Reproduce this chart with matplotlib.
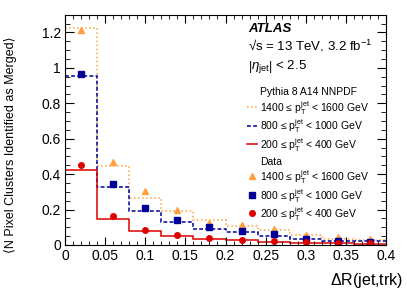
import numpy as np
import matplotlib
matplotlib.use("Agg")
import matplotlib.pyplot as plt
from matplotlib.lines import Line2D
from matplotlib.ticker import MultipleLocator, FormatStrFormatter

plt.rcParams['font.family'] = ['Liberation Sans', 'DejaVu Sans']
plt.rcParams['mathtext.fontset'] = 'custom'
plt.rcParams['mathtext.rm'] = 'Liberation Sans'
plt.rcParams['mathtext.it'] = 'Liberation Sans:italic'
plt.rcParams['mathtext.bf'] = 'Liberation Sans:bold'

"""Data read off the reference"""
binEdges = np.linspace(0, 0.4, 11)

mcHigh = [1.225, 0.444, 0.268, 0.19, 0.14, 0.107, 0.082, 0.058, 0.036, 0.028]
mcMid = [0.955, 0.328, 0.19, 0.128, 0.093, 0.072, 0.05, 0.034, 0.024, 0.02]
mcLow = [0.425, 0.146, 0.079, 0.05, 0.034, 0.028, 0.019, 0.013, 0.01, 0.008]

dataHigh = [1.212, 0.47, 0.307, 0.2, 0.125, 0.114, 0.091, 0.058, 0.043, 0.032]
dataMid = [0.965, 0.347, 0.21, 0.143, 0.1, 0.078, 0.06, 0.036, 0.022, 0.018]
dataLow = [0.45, 0.161, 0.084, 0.054, 0.038, 0.027, 0.021, 0.015, 0.012, 0.01]

labelHigh = "1400 \u2264 $\\mathrm{p}_{\\mathrm{T}}^{\\mathrm{jet}}$ < 1600 GeV"
labelMid = "800 \u2264 $\\mathrm{p}_{\\mathrm{T}}^{\\mathrm{jet}}$ < 1000 GeV"
labelLow = "200 \u2264 $\\mathrm{p}_{\\mathrm{T}}^{\\mathrm{jet}}$ < 400 GeV"

colHigh = '#ffa040'
colMid = '#000099'
colLow = '#dd0000'

binCenters = 0.5 * (binEdges[:-1] + binEdges[1:])

"""Figure"""
fig = plt.figure(figsize=(4.07, 2.92), dpi=100)
ax = fig.add_axes([65/407, 1 - 245/292, 321/407, 230.3/292])

ax.stairs(mcHigh, binEdges, baseline=None, color=colHigh, linestyle=':', linewidth=1.1)
ax.stairs(mcMid, binEdges, baseline=None, color=colMid, linestyle=(0, (2.5, 1.5)),
          linewidth=1.1)
ax.stairs(mcLow, binEdges, baseline=None, color=colLow, linestyle='-', linewidth=1.1)

ax.plot(binCenters, dataHigh, '^', color=colHigh, markersize=4.2, linestyle='none')
ax.plot(binCenters, dataMid, 's', color=colMid, markersize=4, linestyle='none')
ax.plot(binCenters, dataLow, 'o', color=colLow, markersize=4, linestyle='none')

ax.set_xlim(0, 0.4)
ax.set_ylim(0, 1.3)
ax.xaxis.set_major_locator(MultipleLocator(0.05))
ax.xaxis.set_minor_locator(MultipleLocator(0.01))
ax.yaxis.set_major_locator(MultipleLocator(0.2))
ax.yaxis.set_minor_locator(MultipleLocator(0.05))
ax.xaxis.set_major_formatter(FormatStrFormatter('%g'))
ax.yaxis.set_major_formatter(FormatStrFormatter('%g'))
ax.tick_params(which='both', direction='in', top=True, right=True, labelsize=10)
ax.tick_params(axis='x', which='major', length=6, pad=3)
ax.tick_params(axis='x', which='minor', length=3)
ax.tick_params(axis='y', which='major', length=6.5, pad=3)
ax.tick_params(axis='y', which='minor', length=3.5)

ax.set_xlabel(r"$\Delta$R(jet,trk)", fontsize=11.5, ha='right')
ax.xaxis.set_label_coords(1.053, -0.115)
ax.set_ylabel("\u27e8N Pixel Clusters Identified as Merged\u27e9", fontsize=9, ha='right')
ax.yaxis.set_label_coords(-0.15, 0.905)

"""Labels"""
ax.text(0.571, 0.937, "ATLAS", transform=ax.transAxes, fontsize=9.5,
        fontweight='bold', fontstyle='italic', va='center')
ax.text(0.571, 0.863, "\u221as = 13 TeV, 3.2 fb$^{-1}$", transform=ax.transAxes,
        fontsize=9.5, va='center')
ax.text(0.571, 0.77, r"$\left|\eta_{\mathrm{jet}}\right|$ < 2.5", transform=ax.transAxes,
        fontsize=9.5, va='center')

blank = Line2D([], [], linestyle='none')
handles = [blank,
           Line2D([], [], color=colHigh, linestyle=':', linewidth=1.1),
           Line2D([], [], color=colMid, linestyle=(0, (2.5, 1.5)), linewidth=1.1),
           Line2D([], [], color=colLow, linestyle='-', linewidth=1.1),
           blank,
           Line2D([], [], color=colHigh, marker='^', markersize=4.2, linestyle='none'),
           Line2D([], [], color=colMid, marker='s', markersize=4, linestyle='none'),
           Line2D([], [], color=colLow, marker='o', markersize=4, linestyle='none')]
labels = ["Pythia 8 A14 NNPDF", labelHigh, labelMid, labelLow,
          "Data", labelHigh, labelMid, labelLow]
ax.legend(handles, labels, loc='upper left', bbox_to_anchor=(0.567, 0.692),
          frameon=False, fontsize=7.5, handlelength=1.0, handletextpad=0.25,
          handleheight=1.5, labelspacing=0.065, borderpad=0, borderaxespad=0)

plt.savefig("out.png", dpi=100)
